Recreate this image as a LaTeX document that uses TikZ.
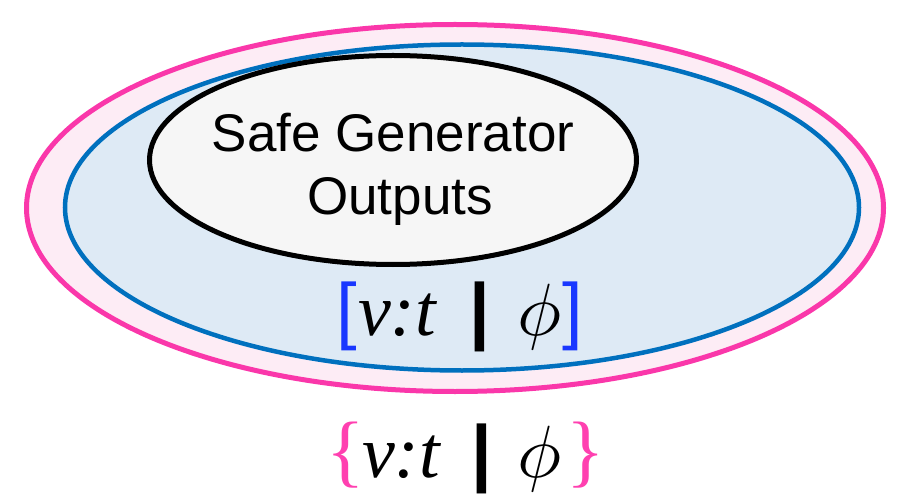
\documentclass[tikz,border=0pt]{standalone}
\usepackage{graphicx}
\usepackage{fontspec}
\newfontfamily\helv{Liberation Sans}
\newfontfamily\tms{Liberation Serif}
\usetikzlibrary{shapes.geometric}
\definecolor{pinkline}{RGB}{250,55,170}
\definecolor{pinkfill}{RGB}{253,236,245}
\definecolor{blueline}{RGB}{0,112,190}
\definecolor{bluefill}{RGB}{222,234,245}
\definecolor{innerfill}{RGB}{246,246,246}
\definecolor{brkblue}{RGB}{25,55,255}
\definecolor{brcpink}{RGB}{255,64,176}
\tikzset{
  ell/.style={ellipse, inner sep=0pt, outer sep=0pt},
  gl/.style={anchor=base west, inner sep=0pt, outer sep=0pt},
  sansbig/.style={font=\helv\fontsize{74}{80}\selectfont},
  barbig/.style={font=\helv\bfseries\fontsize{74}{80}\selectfont},
  serifbig/.style={font=\tms\itshape\fontsize{74}{80}\selectfont},
  bracebig/.style={font=\tms\fontsize{80}{86}\selectfont, text=brcpink},
  label/.style={anchor=base, inner sep=0pt, font=\helv\fontsize{53}{63}\selectfont}
}
\newcommand{\bigphi}{\scalebox{7.4}{$\phi$}}
\begin{document}
\begin{tikzpicture}[x=1pt,y=-1pt]
\useasboundingbox (0,0) rectangle (904,494);
\node[ell, draw=pinkline, fill=pinkfill, line width=5pt, minimum width=857pt, minimum height=367pt] (outer) at (455,208) {};
\node[ell, draw=blueline, fill=bluefill, line width=4.5pt, minimum width=794pt, minimum height=326pt] (blue) at (462,207.5) {};
\node[ell, draw=black, fill=innerfill, line width=5pt, minimum width=487pt, minimum height=209pt] (inner) at (393,160) {};
\node[label] (t1) at (393,152) {Safe Generator};
\node[label] (t2) at (400,215) {Outputs};
% inner-set label
\node[gl, sansbig, text=brkblue] (lb1) at (336,335) {[};
\node[gl, serifbig] (vt1) at (358,335) {v:t};
\node[gl, barbig] (bar1) at (469,335) {|};
\node[gl] (phi1) at (517,335) {\bigphi};
\node[gl, sansbig, text=brkblue] (rb1) at (562,335) {]};
% outer-set label
\node[gl, bracebig] (lb2) at (326,477) {\{};
\node[gl, serifbig] (vt2) at (362,477) {v:t};
\node[gl, barbig] (bar2) at (471,477) {|};
\node[gl] (phi2) at (517,477) {\bigphi};
\node[gl, bracebig] (rb2) at (566,477) {\}};
\end{tikzpicture}
\end{document}
